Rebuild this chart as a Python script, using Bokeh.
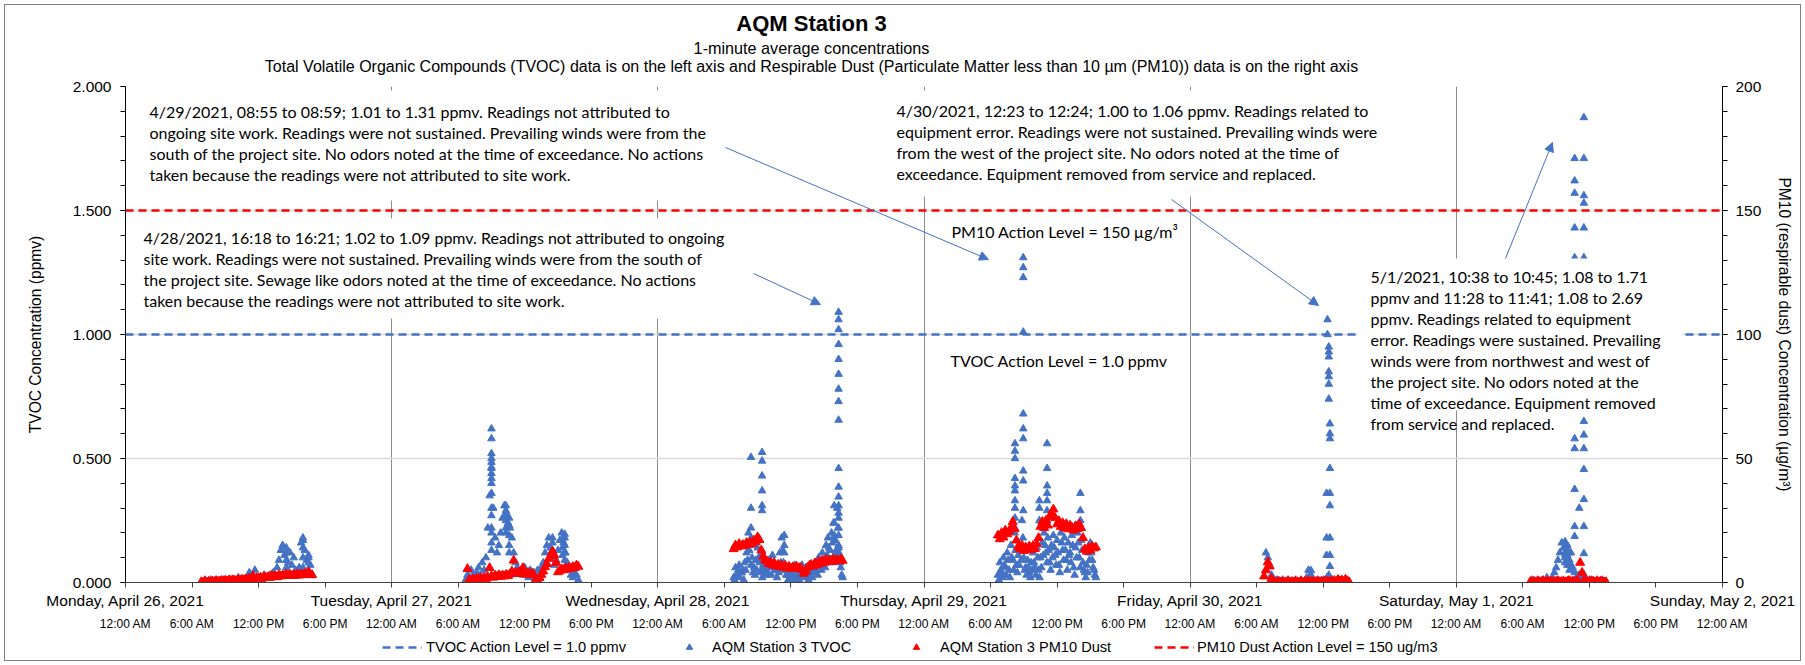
import pandas as pd
from bokeh.plotting import figure
from bokeh.layouts import column
from bokeh.models import (Range1d, LinearAxis, FixedTicker, NumeralTickFormatter, Label,
                          Arrow, NormalHead, BoxAnnotation, Legend, LegendItem, ColumnDataSource)
from bokeh.embed import file_html
from bokeh.resources import INLINE

# ---------------- data ----------------
axis_start = "2021-04-26 00:00"
date_labels = ["Monday, April 26, 2021", "Tuesday, April 27, 2021", "Wednesday, April 28, 2021",
               "Thursday, April 29, 2021", "Friday, April 30, 2021", "Saturday, May 1, 2021",
               "Sunday, May 2, 2021"]
time_labels = ["12:00 AM", "6:00 AM", "12:00 PM", "6:00 PM"]

tvoc_action_level = 1.0      # ppmv
pm10_action_level = 150      # ug/m3

# TVOC (ppmv), 10-minute samples from the given start
tvoc_apr26_start = "2021-04-26 06:50"
tvoc_apr26 = [0.00, 0.00, 0.01, 0.00, 0.00, 0.01, 0.00, 0.00, 0.01, 0.00, 0.00, 0.01,
              0.00, 0.01, 0.00, 0.00, 0.01, 0.00, 0.01, 0.00, 0.02, 0.00, 0.01, 0.00,
              0.01, 0.02, 0.04, 0.02, 0.01, 0.05, 0.02, 0.01, 0.02, 0.01, 0.03, 0.02,
              0.02, 0.03, 0.02, 0.04, 0.03, 0.06, 0.09, 0.13, 0.15, 0.11, 0.14, 0.08,
              0.12, 0.07, 0.10, 0.05, 0.04, 0.06, 0.16, 0.18, 0.13, 0.09, 0.11, 0.07, 0.03]
tvoc_apr27_start = "2021-04-27 06:40"
tvoc_apr27 = [0.01, 0.03, 0.02, 0.05, 0.03, 0.02, 0.04, 0.06, 0.03, 0.08, 0.05, 0.10,
              0.22, 0.35, 0.46, 0.30, 0.18, 0.12, 0.15, 0.20, 0.26, 0.31, 0.28, 0.24,
              0.22, 0.18, 0.12, 0.08, 0.06, 0.04, 0.05, 0.03, 0.06, 0.04, 0.02, 0.05,
              0.03, 0.04, 0.02, 0.05, 0.03, 0.06, 0.08, 0.12, 0.15, 0.18, 0.14, 0.10,
              0.07, 0.09, 0.13, 0.17, 0.20, 0.16, 0.12, 0.08, 0.05, 0.03, 0.02, 0.04, 0.03, 0.01]
tvoc_apr28_start = "2021-04-28 06:50"
tvoc_apr28 = [0.02, 0.06, 0.03, 0.07, 0.04, 0.05, 0.08, 0.12, 0.20, 0.16, 0.10, 0.06,
              0.09, 0.14, 0.08, 0.05, 0.07, 0.04, 0.06, 0.09, 0.07, 0.11, 0.08, 0.05,
              0.07, 0.12, 0.18, 0.08, 0.05, 0.03, 0.04, 0.06, 0.03, 0.07, 0.05, 0.02,
              0.05, 0.07, 0.04, 0.06, 0.03, 0.05, 0.04, 0.06, 0.08, 0.05, 0.10, 0.07,
              0.12, 0.09, 0.15, 0.18, 0.13, 0.20, 0.24, 0.17, 0.30, 0.12, 0.06, 0.02]
tvoc_apr28_b_start = "2021-04-28 06:55"
tvoc_apr28_b = [0.01, 0.03, 0.05, 0.02, 0.04, 0.01, 0.05, 0.09, 0.13, 0.07, 0.04, 0.03,
                0.05, 0.10, 0.04, 0.02, 0.05, 0.03, 0.04, 0.06, 0.03, 0.08, 0.05, 0.02,
                0.04, 0.08, 0.13, 0.05, 0.03, 0.01, 0.02, 0.04, 0.01, 0.05, 0.03, 0.01,
                0.03, 0.05, 0.02, 0.04, 0.01, 0.03, 0.02, 0.04, 0.06, 0.03, 0.07, 0.05,
                0.09, 0.06, 0.11, 0.14, 0.08, 0.16, 0.19, 0.13, 0.22, 0.08, 0.03]
tvoc_apr29_start = "2021-04-29 06:40"
tvoc_apr29 = [0.03, 0.08, 0.04, 0.10, 0.06, 0.12, 0.05, 0.15, 0.09, 0.20, 0.07, 0.11,
              0.14, 0.25, 0.10, 0.06, 0.09, 0.04, 0.08, 0.12, 0.06, 0.14, 0.05, 0.10,
              0.16, 0.20, 0.12, 0.18, 0.08, 0.15, 0.19, 0.11, 0.17, 0.07, 0.20, 0.13,
              0.18, 0.09, 0.16, 0.12, 0.19, 0.06, 0.14, 0.20, 0.10, 0.17, 0.08, 0.04,
              0.07, 0.12, 0.16, 0.09, 0.05, 0.02]
tvoc_apr29_b_start = "2021-04-29 06:45"
tvoc_apr29_b = [0.01, 0.05, 0.02, 0.07, 0.03, 0.09, 0.02, 0.10, 0.05, 0.13, 0.04, 0.07,
                0.09, 0.18, 0.05, 0.03, 0.06, 0.02, 0.05, 0.08, 0.03, 0.10, 0.02, 0.06,
                0.11, 0.15, 0.08, 0.13, 0.05, 0.10, 0.14, 0.07, 0.12, 0.04, 0.16, 0.09,
                0.13, 0.05, 0.11, 0.08, 0.15, 0.03, 0.10, 0.16, 0.06, 0.13, 0.05, 0.02,
                0.04, 0.09, 0.12, 0.06, 0.03]
tvoc_apr30_start = "2021-04-30 06:50"
tvoc_apr30 = [0.12, 0.10, 0.07, 0.03, 0.01, 0.00, 0.01, 0.00, 0.00, 0.01, 0.00, 0.00,
              0.01, 0.00, 0.00, 0.00, 0.01, 0.00, 0.00, 0.01, 0.00, 0.00, 0.02, 0.05,
              0.03, 0.01, 0.00, 0.00, 0.01, 0.00, 0.00, 0.01, 0.00, 0.02, 0.03, 0.00,
              0.01, 0.00, 0.00, 0.01, 0.00, 0.01, 0.00, 0.00, 0.01, 0.00]
tvoc_may01_start = "2021-05-01 06:40"
tvoc_may01 = [0.00, 0.01, 0.00, 0.00, 0.01, 0.00, 0.00, 0.01, 0.00, 0.02, 0.00, 0.01,
              0.02, 0.04, 0.06, 0.09, 0.12, 0.16, 0.14, 0.11, 0.15, 0.08, 0.12, 0.06,
              0.04, 0.02, 0.03, 0.01, 0.02, 0.00, 0.01, 0.00, 0.00, 0.01, 0.00, 0.00,
              0.01, 0.00, 0.00, 0.01, 0.00, 0.00]

# TVOC readings stacked at single times (ppmv)
tvoc_col_times = ["2021-04-26 14:30", "2021-04-26 16:00", "2021-04-26 16:30",
                  "2021-04-27 09:00", "2021-04-27 10:18", "2021-04-27 10:36",
                  "2021-04-27 14:30", "2021-04-27 15:24", "2021-04-27 15:36",
                  "2021-04-28 08:24", "2021-04-28 09:24", "2021-04-28 11:24",
                  "2021-04-28 15:54", "2021-04-28 16:18",
                  "2021-04-29 08:12", "2021-04-29 08:57", "2021-04-29 10:24",
                  "2021-04-29 11:06", "2021-04-29 14:06",
                  "2021-04-30 10:54", "2021-04-30 12:18", "2021-04-30 12:23",
                  "2021-04-30 12:30", "2021-04-30 12:36",
                  "2021-05-01 09:48", "2021-05-01 10:00", "2021-05-01 10:12",
                  "2021-05-01 10:40", "2021-05-01 11:05", "2021-05-01 11:30"]
tvoc_col_values = [[0.12, 0.09, 0.06], [0.17, 0.14, 0.10, 0.06], [0.10, 0.08, 0.05],
                   [0.62, 0.58, 0.52, 0.50, 0.485, 0.465, 0.44, 0.42, 0.40, 0.36, 0.30, 0.27,
                    0.22, 0.20, 0.16, 0.13],
                   [0.31, 0.29, 0.27, 0.25, 0.22, 0.20], [0.26, 0.23, 0.19, 0.15, 0.12],
                   [0.18, 0.16, 0.13, 0.10], [0.17, 0.14, 0.11], [0.195, 0.18, 0.15, 0.12, 0.09],
                   [0.505, 0.30, 0.22, 0.18, 0.15], [0.525, 0.49, 0.43, 0.37, 0.31, 0.29, 0.12],
                   [0.19, 0.15, 0.12], [0.31, 0.24, 0.18, 0.11],
                   [1.09, 1.06, 1.02, 0.96, 0.90, 0.84, 0.78, 0.73, 0.655, 0.46, 0.385, 0.345,
                    0.31, 0.28, 0.26, 0.22, 0.19, 0.15, 0.14, 0.10],
                   [0.56, 0.53, 0.50, 0.42, 0.39, 0.37, 0.33, 0.30, 0.26, 0.22],
                   [1.31, 1.27, 1.23, 1.01, 0.68, 0.62, 0.58, 0.45, 0.41, 0.29],
                   [0.33, 0.30, 0.25], [0.56, 0.46, 0.39, 0.36, 0.33, 0.29, 0.25],
                   [0.36, 0.29, 0.25],
                   [0.048, 0.03], [0.36, 0.18, 0.11], [1.06, 1.00],
                   [0.95, 0.93, 0.91, 0.85, 0.83, 0.80, 0.74],
                   [0.64, 0.60, 0.58, 0.46, 0.36, 0.31, 0.18, 0.11, 0.065],
                   [0.165, 0.14, 0.12, 0.10, 0.08], [0.15, 0.13, 0.11, 0.09, 0.07],
                   [0.12, 0.09, 0.07, 0.05],
                   [1.71, 1.62, 1.57, 1.43, 1.31, 1.20, 1.08, 0.58, 0.54, 0.376, 0.226, 0.186],
                   [0.30],
                   [2.69, 1.875, 1.71, 1.56, 1.53, 1.43, 1.31, 1.10, 0.90, 0.75, 0.65, 0.595,
                    0.54, 0.456, 0.335, 0.226, 0.117, 0.032]]

# PM10 dust (ug/m3), 10-minute samples from the given start
pm10_apr26_start = "2021-04-26 06:50"
pm10_apr26 = [0.2, 0.0, 0.3, 0.1, 0.4, 0.2, 0.5, 0.3, 0.6, 0.4, 0.5, 0.7,
              0.6, 0.8, 0.5, 0.9, 0.7, 1.0, 0.8, 0.6, 1.1, 0.9, 1.2, 1.0,
              1.3, 1.1, 1.6, 1.4, 2.6, 1.5, 1.8, 1.6, 2.0, 1.7, 2.4, 1.9,
              2.2, 1.9, 2.8, 2.3, 2.6, 2.2, 3.0, 2.5, 2.9, 2.7, 3.3, 2.8,
              3.1, 2.7, 3.0, 2.8, 3.4, 2.9, 3.2, 3.0, 3.6, 3.1, 4.2, 3.3, 3.0]
pm10_apr27_start = "2021-04-27 06:50"
pm10_apr27 = [5.5, 1.2, 0.6, 1.4, 0.9, 1.6, 1.1, 1.8, 1.3, 2.0, 1.5, 2.2,
              5.9, 2.6, 2.0, 2.8, 2.3, 3.0, 2.4, 2.9, 2.5, 3.2, 2.7, 3.4,
              4.5, 8.9, 4.0, 3.5, 4.2, 3.6, 5.9, 3.8, 3.2, 3.9, 3.3, 3.7,
              3.0, 1.5, 0.8, 1.9, 3.2, 4.5, 6.2, 7.5, 9.6, 10.8, 12.5, 11.0,
              8.0, 4.2, 4.8, 5.4, 5.0, 5.8, 5.3, 6.0, 5.6, 6.3, 5.9, 6.9, 6.4]
pm10_apr28_start = "2021-04-28 06:50"
pm10_apr28 = [13.5, 15.0, 14.2, 15.6, 14.6, 15.2, 14.8, 16.0, 15.3, 16.2, 15.5, 17.0,
              16.4, 18.3, 17.2, 13.0, 10.5, 9.2, 8.6, 7.5, 8.2, 7.0, 7.8, 6.6,
              7.2, 6.3, 7.0, 6.0, 6.8, 5.8, 6.4, 5.6, 6.2, 5.5, 6.5, 5.7,
              6.0, 5.2, 3.6, 4.5, 6.0, 6.8, 7.2, 6.5, 7.8, 7.0, 8.4, 7.6,
              8.8, 8.0, 9.2, 8.5, 9.0, 8.3, 9.4, 8.7, 9.1, 8.6, 9.3, 8.8]
pm10_apr29_start = "2021-04-29 06:40"
pm10_apr29 = [19.0, 17.5, 20.0, 18.2, 21.0, 19.5, 20.5, 22.0, 24.5, 21.5, 17.0, 14.5,
              13.5, 15.0, 12.8, 14.2, 13.0, 14.6, 13.2, 14.8, 13.5, 15.5, 18.0, 22.5,
              24.5, 22.0, 25.0, 23.0, 26.5, 28.0, 29.5, 26.0, 23.5, 24.8, 22.5, 24.0,
              22.0, 23.6, 21.5, 23.0, 22.2, 21.0, 22.8, 21.6, 23.5, 22.0, 18.0, 13.5,
              12.5, 14.0, 13.0, 14.5, 13.8, 14.2]
pm10_apr30_start = "2021-04-30 06:40"
pm10_apr30 = [2.5, 5.0, 8.2, 6.5, 1.5, 0.3, 0.2, 0.0, 0.4, 0.1, 0.3, 0.0,
              0.2, 0.5, 0.1, 0.3, 0.0, 0.4, 0.2, 0.1, 0.5, 0.0, 0.3, 0.2,
              0.6, 0.1, 0.4, 0.0, 0.3, 0.5, 0.2, 0.4, 0.1, 0.6, 0.3, 0.2,
              0.5, 0.1, 0.7, 0.4, 1.1, 0.6, 0.9, 0.3, 1.2, 0.5, 0.2]
pm10_may01_start = "2021-05-01 06:40"
pm10_may01 = [0.3, 0.1, 0.4, 0.0, 0.5, 0.2, 0.3, 0.6, 0.1, 0.4, 0.2, 0.5,
              0.3, 0.0, 0.4, 0.6, 0.2, 0.3, 0.5, 0.1, 0.4, 0.7, 0.3, 0.5,
              0.2, 0.6, 0.4, 8.0, 4.0, 0.8, 0.4, 0.2, 0.6, 0.3, 0.5, 0.1,
              0.4, 0.2, 0.5, 0.3, 0.1, 0.2]

# ---------------- helpers ----------------
T0 = pd.Timestamp(axis_start)


def hours(ts):
    return (pd.Timestamp(ts) - T0) / pd.Timedelta(hours=1)


def sampled(start, vals, step=10):
    h0 = hours(start)
    return [h0 + i * step / 60 for i in range(len(vals))], list(vals)


tv_x, tv_y = [], []
for st, vals in [(tvoc_apr26_start, tvoc_apr26), (tvoc_apr27_start, tvoc_apr27),
                 (tvoc_apr28_start, tvoc_apr28), (tvoc_apr28_b_start, tvoc_apr28_b),
                 (tvoc_apr29_start, tvoc_apr29), (tvoc_apr29_b_start, tvoc_apr29_b),
                 (tvoc_apr30_start, tvoc_apr30), (tvoc_may01_start, tvoc_may01)]:
    xs, ys = sampled(st, vals)
    tv_x += xs
    tv_y += ys
for t, vals in zip(tvoc_col_times, tvoc_col_values):
    tv_x += [hours(t)] * len(vals)
    tv_y += vals

pm_x, pm_y = [], []
for st, vals in [(pm10_apr26_start, pm10_apr26), (pm10_apr27_start, pm10_apr27),
                 (pm10_apr28_start, pm10_apr28), (pm10_apr29_start, pm10_apr29),
                 (pm10_apr30_start, pm10_apr30), (pm10_may01_start, pm10_may01)]:
    xs, ys = sampled(st, vals)
    pm_x += xs
    pm_y += ys

n_hours = 24 * (len(date_labels) - 1)

# ---------------- layout constants ----------------
W = 1805
TOP_H, MAIN_H, LEG_H = 76, 558, 31
FL, FR, FT, FB = 125, 1722, 86, 582       # plot frame, page pixels
BLUE = "#4472C4"
RED = "#FF0000"
ARIAL = "Liberation Sans"
CAL = "Lato"
CAL_SIZE = "16px"


def clear(f):
    f.outline_line_color = None
    f.background_fill_alpha = 0
    f.border_fill_alpha = 0


def strip(h):
    # the column aligns every frame with the chart's frame: x data == page pixels
    f = figure(width=W, height=h, x_range=Range1d(FL, FR), y_range=Range1d(0, h),
               output_backend="svg", toolbar_location=None, title=None, min_border=0,
               x_axis_type=None, y_axis_type=None)
    clear(f)
    return f


# ---------------- title strip ----------------
ptitle = strip(TOP_H)
for txt, y, size, style in [("AQM Station 3", 23, "22px", "bold"),
                            ("1-minute average concentrations", 47, "16.2px", "normal"),
                            ("Total Volatile Organic Compounds (TVOC) data is on the left axis and "
                             "Respirable Dust (Particulate Matter less than 10 µm (PM10)) data is on "
                             "the right axis", 66, "16px", "normal")]:
    ptitle.add_layout(Label(x=811, y=TOP_H - y, text=txt, text_font=ARIAL, text_font_size=size,
                            text_font_style=style, text_align="center", text_baseline="middle",
                            text_color="black"))

# ---------------- main chart ----------------
p = figure(width=W, height=MAIN_H, x_range=Range1d(0, n_hours), y_range=Range1d(0, 2),
           output_backend="svg", toolbar_location=None, title=None,
           min_border_left=FL, min_border_right=W - FR, min_border_top=FT - TOP_H,
           min_border_bottom=TOP_H + MAIN_H - FB)
p.extra_y_ranges = {"pm": Range1d(0, 200)}
clear(p)

six_h = list(range(0, n_hours + 1, 6))
day_ticks = list(range(0, n_hours + 1, 24))

xa = p.xaxis[0]
xa.ticker = FixedTicker(ticks=six_h)
xa.major_label_overrides = {t: (date_labels[t // 24] if t % 24 == 0 else "") for t in six_h}
xa.major_label_text_font = ARIAL
xa.major_label_text_font_size = "15.5px"
xa.major_label_text_color = "black"
xa.major_label_standoff = 4
xa.major_tick_in = 0
xa.major_tick_out = 5
xa.major_tick_line_color = "#404040"
xa.minor_tick_line_color = None
xa.axis_line_color = "#404040"

xa2 = LinearAxis(ticker=FixedTicker(ticks=six_h),
                 major_label_overrides={t: time_labels[(t // 6) % 4] for t in six_h},
                 axis_line_color=None, major_tick_line_color=None, minor_tick_line_color=None,
                 major_tick_out=0, major_tick_in=0, major_label_standoff=5,
                 major_label_text_font=ARIAL, major_label_text_font_size="12px",
                 major_label_text_color="black")
p.add_layout(xa2, "below")

ya = p.yaxis[0]
yt = FixedTicker(ticks=[0, 0.5, 1.0, 1.5, 2.0], minor_ticks=[i / 10 for i in range(21)])
ya.ticker = yt
ya.formatter = NumeralTickFormatter(format="0.000")
ya.axis_label = "TVOC Concentration (ppmv)"
ya.axis_label_text_font = ARIAL
ya.axis_label_text_font_style = "normal"
ya.axis_label_text_font_size = "15.6px"
ya.axis_label_text_color = "black"
ya.axis_label_standoff = 26
ya.major_label_text_font = ARIAL
ya.major_label_text_font_size = "15.5px"
ya.major_label_text_color = "black"
ya.major_label_standoff = 9
ya.major_tick_in = 0
ya.major_tick_out = 5
ya.minor_tick_in = 0
ya.minor_tick_out = 5
ya.axis_line_color = "black"
ya.major_tick_line_color = "black"
ya.minor_tick_line_color = "black"

ra = LinearAxis(y_range_name="pm",
                ticker=FixedTicker(ticks=[0, 50, 100, 150, 200], minor_ticks=list(range(0, 201, 10))),
                axis_label="PM10 (respirable dust) Concentration (µg/m³)",
                axis_label_text_font=ARIAL, axis_label_text_font_style="normal",
                axis_label_text_font_size="15.6px", axis_label_standoff=12,
                axis_label_text_color="black",
                major_label_text_font=ARIAL, major_label_text_font_size="15.5px",
                major_label_text_color="black",
                major_label_standoff=8, major_tick_in=0, major_tick_out=5,
                minor_tick_in=0, minor_tick_out=5, axis_line_color="black",
                major_tick_line_color="black", minor_tick_line_color="black")
p.add_layout(ra, "right")

p.ygrid.ticker = yt
p.ygrid.grid_line_color = "#d9d9d9"
p.ygrid.grid_line_width = 1.5
p.xgrid.ticker = FixedTicker(ticks=day_ticks[1:-1])
p.xgrid.grid_line_color = "#8c8c8c"
p.xgrid.grid_line_width = 1

LVL = dict(line_width=2.5, line_dash="8 5")
p.line([0, n_hours], [tvoc_action_level] * 2, line_color=BLUE, **LVL)
p.line([0, n_hours], [pm10_action_level] * 2, y_range_name="pm", line_color=RED, **LVL)

TRI_B = dict(marker="triangle", size=7.5, fill_color=BLUE, line_color=BLUE)
TRI_R = dict(marker="triangle", size=9, fill_color=RED, line_color=RED)
p.scatter(x="x", y="y", source=ColumnDataSource(dict(x=tv_x, y=tv_y)), **TRI_B)
p.scatter(x="x", y="y", source=ColumnDataSource(dict(x=pm_x, y=pm_y)), y_range_name="pm", **TRI_R)


def dx(px):
    return (px - FL) * n_hours / (FR - FL)


def dy(py):
    return (FB - py) * 2 / (FB - FT)


def box(x0, x1, y0, y1):
    p.add_layout(BoxAnnotation(left=dx(x0), right=dx(x1), top=dy(y0), bottom=dy(y1),
                               fill_color="white", fill_alpha=1, line_color=None))


def lines(x, ys, texts):
    for y, t in zip(ys, texts):
        p.add_layout(Label(x=dx(x), y=dy(y), text=t, text_font=CAL, text_font_size=CAL_SIZE,
                           text_baseline="middle", text_align="left", text_color="black"))


box(139, 720, 90, 200)
box(133, 730, 218, 318)
box(886, 1375, 90, 196)
box(1357, 1682, 258, 410)

lines(149, [111, 132, 153, 174], [
    "4/29/2021, 08:55 to 08:59; 1.01 to 1.31 ppmv. Readings not attributed to",
    "ongoing site work. Readings were not sustained. Prevailing winds were from the",
    "south of the project site. No odors noted at the time of exceedance. No actions",
    "taken because the readings were not attributed to site work."])
lines(143, [237, 258, 279, 300], [
    "4/28/2021, 16:18 to 16:21; 1.02 to 1.09 ppmv. Readings not attributed to ongoing",
    "site work. Readings were not sustained. Prevailing winds were from the south of",
    "the project site. Sewage like odors noted at the time of exceedance. No actions",
    "taken because the readings were not attributed to site work."])
lines(896, [110, 131, 152, 173], [
    "4/30/2021, 12:23 to 12:24; 1.00 to 1.06 ppmv. Readings related to",
    "equipment error. Readings were not sustained. Prevailing winds were",
    "from the west of the project site. No odors noted at the time of",
    "exceedance. Equipment removed from service and replaced."])
lines(951, [231], ["PM10 Action Level = 150 µg/m³"])
lines(950, [360], ["TVOC Action Level = 1.0 ppmv"])
lines(1370, [276, 297, 318, 339, 360, 381, 402, 423], [
    "5/1/2021, 10:38 to 10:45; 1.08 to 1.71",
    "ppmv and 11:28 to 11:41; 1.08 to 2.69",
    "ppmv. Readings related to equipment",
    "error. Readings were sustained. Prevailing",
    "winds were from northwest and west of",
    "the project site. No odors noted at the",
    "time of exceedance. Equipment removed",
    "from service and replaced."])

for (x0, y0, x1, y1) in [(725, 147, 988, 259), (753, 273, 820, 304),
                         (1171, 199, 1318, 305), (1505, 258, 1552, 142)]:
    p.add_layout(Arrow(x_start=dx(x0), y_start=dy(y0), x_end=dx(x1), y_end=dy(y1),
                       line_color=BLUE, line_width=1,
                       end=NormalHead(size=9, fill_color=BLUE, line_color=BLUE, line_width=1)))

# ---------------- legend strip ----------------
pleg = strip(LEG_H)
off = dict(x=[-100, -99], y=[-100, -100])      # outside the strip's ranges: only the legend shows
leg_lvl_b = pleg.line(off["x"], off["y"], line_color=BLUE, **LVL)
leg_tvoc = pleg.scatter(off["x"], off["y"], **TRI_B)
leg_pm = pleg.scatter(off["x"], off["y"], **TRI_R)
leg_lvl_r = pleg.line(off["x"], off["y"], line_color=RED, **LVL)
leg_center = 647.3 - (TOP_H + MAIN_H)          # from the strip's top
for r, lab, x, gw, so in [(leg_lvl_b, "TVOC Action Level = 1.0 ppmv", 382, 40, 4),
                          (leg_tvoc, "AQM Station 3 TVOC", 679, 20, 13),
                          (leg_pm, "AQM Station 3 PM10 Dust", 906, 20, 14),
                          (leg_lvl_r, "PM10 Dust Action Level = 150 ug/m3", 1154, 40, 3)]:
    pleg.add_layout(Legend(items=[LegendItem(label=lab, renderers=[r])],
                           location=(x - FL, LEG_H - leg_center - 8),
                           orientation="horizontal", glyph_width=gw, glyph_height=16,
                           label_height=16, label_standoff=so, padding=0, margin=0, spacing=0,
                           border_line_color=None, background_fill_alpha=0,
                           label_text_font=ARIAL, label_text_font_size="14.6px",
                           label_text_color="black"))

layout = column(ptitle, p, pleg, spacing=0,
                styles={"outline": "1px solid #7f7f7f", "outline-offset": "-5px",
                        "background-color": "white"})
open("out.html", "w").write(file_html(layout, INLINE))
